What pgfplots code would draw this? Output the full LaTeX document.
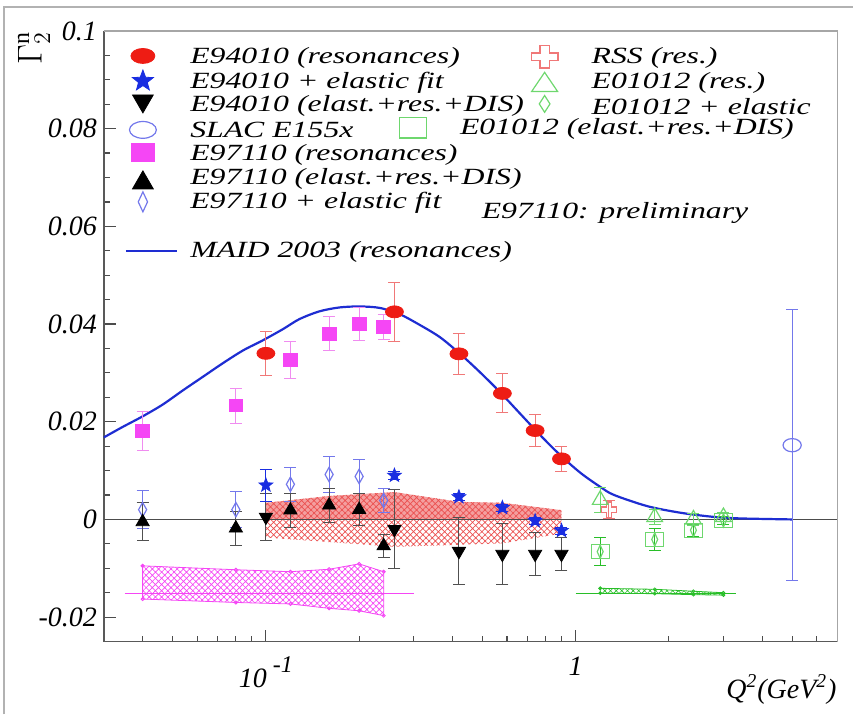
\documentclass[border=0pt]{standalone}
\usepackage{fontspec}
\setmainfont{Liberation Serif}
\newfontfamily\legfont[FakeStretch=1.37]{Liberation Serif}
\usepackage{pgfplots}
\pgfplotsset{compat=1.18}
\usetikzlibrary{patterns.meta}

\definecolor{cRed}{RGB}{238,28,20}
\definecolor{cRedL}{RGB}{240,120,120}
\definecolor{cBand}{RGB}{235,80,80}
\definecolor{cMag}{RGB}{245,70,245}
\definecolor{cMagL}{RGB}{240,140,240}
\definecolor{cBlue}{RGB}{25,45,225}
\definecolor{cBlueL}{RGB}{115,120,235}
\definecolor{cGreen}{RGB}{110,215,110}
\definecolor{cGreenD}{RGB}{40,190,40}
\definecolor{cMaid}{RGB}{30,45,210}
\definecolor{cGrayE}{RGB}{80,80,80}

% filled five point star
\pgfdeclareplotmark{fstar}{%
  \pgfpathmoveto{\pgfpointpolar{90}{\pgfplotmarksize}}%
  \pgfpathlineto{\pgfpointpolar{126}{0.42\pgfplotmarksize}}%
  \pgfpathlineto{\pgfpointpolar{162}{\pgfplotmarksize}}%
  \pgfpathlineto{\pgfpointpolar{198}{0.42\pgfplotmarksize}}%
  \pgfpathlineto{\pgfpointpolar{234}{\pgfplotmarksize}}%
  \pgfpathlineto{\pgfpointpolar{270}{0.42\pgfplotmarksize}}%
  \pgfpathlineto{\pgfpointpolar{306}{\pgfplotmarksize}}%
  \pgfpathlineto{\pgfpointpolar{342}{0.42\pgfplotmarksize}}%
  \pgfpathlineto{\pgfpointpolar{18}{\pgfplotmarksize}}%
  \pgfpathlineto{\pgfpointpolar{54}{0.42\pgfplotmarksize}}%
  \pgfpathclose\pgfusepathqfillstroke}
% open cross (outline of a plus)
\pgfdeclareplotmark{ocross}{%
  \pgfpathmoveto{\pgfpoint{0.35\pgfplotmarksize}{\pgfplotmarksize}}%
  \pgfpathlineto{\pgfpoint{-0.35\pgfplotmarksize}{\pgfplotmarksize}}%
  \pgfpathlineto{\pgfpoint{-0.35\pgfplotmarksize}{0.35\pgfplotmarksize}}%
  \pgfpathlineto{\pgfpoint{-\pgfplotmarksize}{0.35\pgfplotmarksize}}%
  \pgfpathlineto{\pgfpoint{-\pgfplotmarksize}{-0.35\pgfplotmarksize}}%
  \pgfpathlineto{\pgfpoint{-0.35\pgfplotmarksize}{-0.35\pgfplotmarksize}}%
  \pgfpathlineto{\pgfpoint{-0.35\pgfplotmarksize}{-\pgfplotmarksize}}%
  \pgfpathlineto{\pgfpoint{0.35\pgfplotmarksize}{-\pgfplotmarksize}}%
  \pgfpathlineto{\pgfpoint{0.35\pgfplotmarksize}{-0.35\pgfplotmarksize}}%
  \pgfpathlineto{\pgfpoint{\pgfplotmarksize}{-0.35\pgfplotmarksize}}%
  \pgfpathlineto{\pgfpoint{\pgfplotmarksize}{0.35\pgfplotmarksize}}%
  \pgfpathlineto{\pgfpoint{0.35\pgfplotmarksize}{0.35\pgfplotmarksize}}%
  \pgfpathclose\pgfusepathqstroke}

% legend glyph: position, path options
\newcommand{\lm}[2]{\node[inner sep=0pt] at (#1) {\tikz\path[#2] plot coordinates {(0,0)};};}
\newcommand{\lt}[2]{\node[anchor=west, inner sep=0pt, font=\legfont\fontsize{11.6}{13}\selectfont\itshape] at (#1) {#2};}

\pgfplotsset{
  ebar/.style={error bars/.cd, y dir=both, y explicit,
    error bar style={#1, line width=0.5pt},
    error mark options={rotate=90, mark size=3pt, #1, line width=0.5pt}},
}

\begin{document}
\begin{tikzpicture}
\begin{axis}[
    at={(0,0)}, anchor=south west,
    scale only axis, width=367pt, height=305.5pt,
    xmode=log, xmin=0.03, xmax=7,
    ymin=-0.025, ymax=0.1,
    axis x line*=bottom, axis y line*=left,
    axis line style={black!65, line width=0.6pt},
    tick align=inside, tick style={black!70, line width=0.6pt},
    major tick length=6pt, minor tick length=3pt,
    xtick={0.1,1},
    xticklabels={{10\hspace{3pt}\raisebox{0.55em}{\fontsize{12}{12}\selectfont -1}}, 1},
    minor xtick={0.04,0.05,0.06,0.07,0.08,0.09,0.2,0.3,0.4,0.5,0.6,0.7,0.8,0.9,2,3,4,5,6,7},
    ytick={-0.02,0,0.02,0.04,0.06,0.08,0.1},
    yticklabels={-0.02,0,0.02,0.04,0.06,0.08,0.1},
    minor y tick num=3,
    tick label style={font=\fontsize{14}{16}\selectfont\itshape},
    xticklabel style={yshift=-4pt},
    clip=false,
]

% systematic bands
\addplot[draw=none, fill=cBand!55, postaction={pattern={Hatch[angle=45,distance=2.2pt,line width=0.35pt]}, pattern color=cBand}]
  coordinates {(0.1,0.0034) (0.16,0.0048) (0.26,0.0056) (0.42,0.0036) (0.58,0.0034) (0.9,0.0019)
               (0.9,0) (0.1,0)};
\addplot[draw=none, pattern={Hatch[angle=45,distance=2.2pt,line width=0.35pt]}, pattern color=cBand]
  coordinates {(0.1,0) (0.9,0) (0.9,-0.0029) (0.58,-0.0049) (0.42,-0.0052) (0.26,-0.0056) (0.1,-0.0037)};

\addplot[cMag, line width=0.4pt, pattern={Hatch[angle=45,distance=2.2pt,line width=0.35pt]}, pattern color=cMag,
  mark=*, mark size=0.8pt]
  coordinates {(0.04,-0.0095) (0.08,-0.0103) (0.12,-0.0107) (0.16,-0.0102) (0.2,-0.0091) (0.24,-0.0107)
               (0.24,-0.0197) (0.2,-0.0187) (0.16,-0.0182) (0.12,-0.0173) (0.08,-0.0170) (0.04,-0.0163) (0.04,-0.0095)};
\addplot[cMag, line width=0.4pt] coordinates {(0.035,-0.0151) (0.30,-0.0151)};

\addplot[cGreenD, line width=0.4pt, pattern={Hatch[angle=45,distance=2pt,line width=0.3pt]}, pattern color=cGreenD,
  mark=*, mark size=0.7pt]
  coordinates {(1.2,-0.0141) (1.8,-0.0143) (2.4,-0.0147) (3.0,-0.0150)
               (3.0,-0.0155) (2.4,-0.0154) (1.8,-0.0152) (1.2,-0.0151) (1.2,-0.0141)};
\addplot[cGreenD, line width=0.4pt] coordinates {(1.0,-0.0151) (3.3,-0.0151)};

% zero line
\addplot[black!70, line width=0.5pt] coordinates {(0.03,0) (7,0)};

% MAID 2003
\addplot[cMaid, line width=1.1pt, smooth] coordinates {
  (0.0300,0.0168) (0.0344,0.0189) (0.0400,0.0211) (0.0464,0.0235) (0.0539,0.0264)
  (0.0626,0.0292) (0.0727,0.0320) (0.0844,0.0346) (0.0980,0.0367) (0.1138,0.0390)
  (0.1282,0.0410) (0.1489,0.0426) (0.1729,0.0434) (0.2007,0.0436) (0.2331,0.0433)
  (0.2707,0.0420) (0.3143,0.0398) (0.3649,0.0373) (0.4236,0.0339) (0.4918,0.0301)
  (0.5711,0.0260) (0.6631,0.0216) (0.7701,0.0172) (0.8940,0.0131) (1.038,0.0095)
  (1.205,0.0066) (1.331,0.0050) (1.708,0.0027) (2.19,0.00135) (2.81,0.0005) (3.43,0.0002) (5.0,0.0)};

% E97110 + elastic fit
\addplot[only marks, mark=diamond, mark size=3.6pt, mark options={cBlueL, xscale=0.75, line width=0.6pt},
  ebar={cBlueL}] coordinates {
  (0.04,0.0020) +- (0,0.0039) (0.08,0.0020) +- (0,0.0037) (0.12,0.0072) +- (0,0.0035)
  (0.16,0.0092) +- (0,0.0036) (0.2,0.0088) +- (0,0.0034) (0.24,0.0039) +- (0,0.0024)};

% E97110 resonances
\addplot[only marks, mark=square*, mark size=3.4pt, mark options={cMag, yscale=0.92},
  ebar={cMagL}] coordinates {
  (0.04,0.0181) +- (0,0.0040) (0.08,0.0233) +- (0,0.0036) (0.12,0.0327) +- (0,0.0038)
  (0.16,0.0380) +- (0,0.0035) (0.2,0.0400) +- (0,0.0033) (0.24,0.0394) +- (0,0.0025)};

% E97110 elast.+res.+DIS
\addplot[only marks, mark=triangle*, mark size=3.8pt, mark options={black},
  ebar={cGrayE}] coordinates {
  (0.04,-0.0005) +- (0,0.0039) (0.08,-0.0018) +- (0,0.0035) (0.12,0.0019) +- (0,0.0035)
  (0.16,0.0029) +- (0,0.0035) (0.2,0.0020) +- (0,0.0033) (0.24,-0.0054) +- (0,0.0023)};

% E94010 elast.+res.+DIS
\addplot[only marks, mark=triangle*, mark size=3.8pt, mark options={black, rotate=180},
  ebar={cGrayE}] coordinates {
  (0.1,0.0005) +- (0,0.0048) (0.26,-0.0020) +- (0,0.0081) (0.42,-0.0065) +- (0,0.0069)
  (0.58,-0.0071) +- (0,0.0062) (0.74,-0.0071) +- (0,0.0044) (0.9,-0.0071) +- (0,0.0034)};

% E94010 + elastic fit
\addplot[only marks, mark=fstar, mark size=3.6pt, mark options={cBlue},
  ebar={cBlue}] coordinates {
  (0.1,0.0070) +- (0,0.0033) (0.26,0.0090) +- (0,0.0008) (0.42,0.0046) +- (0,0.0008)
  (0.58,0.0024) +- (0,0.0007) (0.74,-0.0003) +- (0,0.0007) (0.9,-0.0023) +- (0,0.0007)};

% E94010 resonances
\addplot[only marks, mark=*, mark size=3pt, mark options={cRed, xscale=1.5},
  ebar={cRedL}] coordinates {
  (0.1,0.0340) +- (0,0.0045) (0.26,0.0425) +- (0,0.0060) (0.42,0.0339) +- (0,0.0042)
  (0.58,0.0258) +- (0,0.0040) (0.74,0.0182) +- (0,0.0033) (0.9,0.0124) +- (0,0.0026)};

% SLAC E155x
\addplot[only marks, mark=o, mark size=3.3pt, mark options={cBlueL, xscale=1.38, line width=0.6pt},
  ebar={cBlueL}] coordinates {(5.0,0.0152) +- (0,0.0277)};

% RSS
\addplot[only marks, mark=ocross, mark size=3.8pt, mark options={cRedL, line width=0.6pt},
  ebar={cRedL}] coordinates {(1.28,0.0020) +- (0,0.0019)};

% E01012 resonances
\addplot[only marks, mark=triangle, mark size=4.5pt, mark options={cGreen, line width=0.6pt},
  ebar={cGreen}] coordinates {
  (1.2,0.0040) +- (0,0.0025) (1.8,0.0005) +- (0,0.0015) (2.4,0.0000) +- (0,0.0012) (3.0,0.0005) +- (0,0.0010)};

% E01012 elast.+res.+DIS
\addplot[only marks, mark=square, mark size=4.5pt, mark options={cGreen, yscale=0.78, line width=0.6pt}]
  coordinates {(1.2,-0.0066) (1.8,-0.0041) (2.4,-0.0022) (3.0,-0.0002)};

% E01012 + elastic
\addplot[only marks, mark=diamond, mark size=3.3pt, mark options={cGreen, xscale=0.6, line width=0.6pt},
  ebar={cGreenD}] coordinates {
  (1.2,-0.0066) +- (0,0.0028) (1.8,-0.0041) +- (0,0.0023) (2.4,-0.0022) +- (0,0.0012) (3.0,-0.0002) +- (0,0.0008)};

\end{axis}

% pixel frame of the reference picture (854 x 715)
\begin{scope}[shift={(-52pt,321pt)}, x=0.5pt, y=-0.5pt]
  \path (0,0) rectangle (854,715);
  \draw[black!30, line width=0.6pt] (4,715) -- (4,7) -- (854,7);
  \draw[black!35, line width=0.6pt] (104,31) -- (838,31) -- (838,642);

  \node[rotate=90, font=\fontsize{17}{17}\selectfont] at (34,48) {$\Gamma_2^{\mathrm{n}}$};
  \node[font=\fontsize{14}{16}\selectfont\itshape] at (782,690) {Q\textsuperscript{2}(GeV\textsuperscript{2})};

  % legend, first column
  \lm{143,56}{mark=*, mark size=3.75pt, color=cRed, mark options={xscale=1.6}}
  \lm{143,80}{mark=fstar, mark size=5.5pt, color=cBlue}
  \lm{143,104}{mark=triangle*, mark size=6pt, color=black, mark options={rotate=180}}
  \lm{143,130}{mark=o, mark size=4.2pt, color=cBlueL, mark options={xscale=1.6, line width=0.6pt}}
  \lm{143,153}{mark=square*, mark size=6pt, color=cMag, mark options={yscale=0.75}}
  \lm{143,180}{mark=triangle*, mark size=6pt, color=black}
  \lm{143,202}{mark=diamond, mark size=5pt, color=cBlueL, mark options={xscale=0.62, line width=0.6pt}}
  \draw[cMaid, line width=1.1pt] (126,251) -- (177,251);

  \lt{190,58}{E94010 (resonances)}
  \lt{190,82.5}{E94010 + elastic fit}
  \lt{190,106.5}{E94010 (elast.+res.+DIS)}
  \lt{190,130.5}{SLAC E155x}
  \lt{190,155}{E97110 (resonances)}
  \lt{190,179}{E97110 (elast.+res.+DIS)}
  \lt{190,202.5}{E97110 + elastic fit}
  \lt{190,252.5}{MAID 2003 (resonances)}

  % legend, second column
  \lm{545,57}{mark=ocross, mark size=6.7pt, color=cRedL, mark options={yscale=0.83, line width=0.6pt}}
  \lm{545,82}{mark=triangle, mark size=7.5pt, color=cGreen, mark options={yscale=0.85, line width=0.6pt}}
  \lm{545,104}{mark=diamond, mark size=4.2pt, color=cGreen, mark options={xscale=0.85, line width=0.6pt}}
  \lm{413,128}{mark=square, mark size=6.7pt, color=cGreen, mark options={yscale=0.75, line width=0.6pt}}

  \lt{591.7,57.5}{RSS (res.)}
  \lt{591.7,82.5}{E01012 (res.)}
  \lt{591.7,106.5}{E01012 + elastic}
  \lt{460,129.5}{E01012 (elast.+res.+DIS)}
  \lt{481.7,213}{E97110: preliminary}
\end{scope}
\end{tikzpicture}
\end{document}
